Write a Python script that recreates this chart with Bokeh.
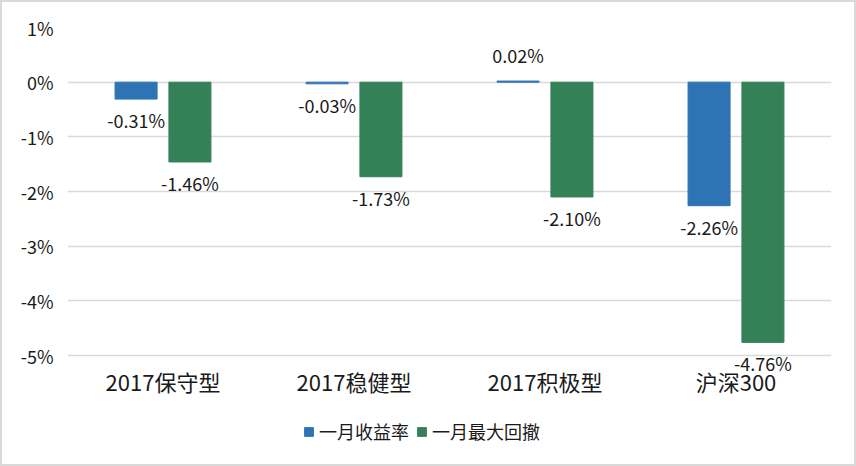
from bokeh.plotting import figure
from bokeh.layouts import column
from bokeh.models import (FactorRange, Range1d, FixedTicker, PrintfTickFormatter,
                          ColumnDataSource, Legend, LegendItem, LabelSet)
from bokeh.transform import dodge
from bokeh.core.properties import value
from bokeh.embed import file_html
from bokeh.resources import INLINE

categories = ["2017保守型", "2017稳健型", "2017积极型", "沪深300"]
monthly_return = [-0.31, -0.03, 0.02, -2.26]
max_drawdown = [-1.46, -1.73, -2.10, -4.76]
series_names = ["一月收益率", "一月最大回撤"]
y_ticks = [-5, -4, -3, -2, -1, 0, 1]

BLUE = "#2E74B5"
GREEN = "#358157"
FONT = "Noto Sans CJK SC"
TXT = "#1a1a1a"

def labels(vals):
    return [f"{v:.2f}%" for v in vals]

def offsets(vals):
    return [26 if v > 0 else -21 for v in vals]

src = ColumnDataSource(dict(
    cat=categories,
    ret=monthly_return,
    dd=max_drawdown,
    ret_lbl=labels(monthly_return),
    dd_lbl=labels(max_drawdown),
    ret_off=offsets(monthly_return),
    dd_off=offsets(max_drawdown),
))

# frame: top at 1%, extended a little below -5% so that the last data label is not clipped
p = figure(width=852, height=412, output_backend="svg", toolbar_location=None,
           x_range=FactorRange(factors=categories, range_padding=0),
           y_range=Range1d(-5.439, 1),
           min_border_left=65, min_border_right=23, min_border_top=25,
           min_border_bottom=35)
p.outline_line_color = None
p.background_fill_color = "white"
p.border_fill_color = "white"

r1 = p.vbar(x=dodge("cat", -0.141, range=p.x_range), top="ret", bottom=0, width=0.22,
            source=src, fill_color=BLUE, line_color=BLUE)
r2 = p.vbar(x=dodge("cat", 0.141, range=p.x_range), top="dd", bottom=0, width=0.22,
            source=src, fill_color=GREEN, line_color=GREEN)

lab1 = LabelSet(x=dodge("cat", -0.141, range=p.x_range), y="ret", text="ret_lbl",
                y_offset="ret_off", source=src, text_align="center", text_baseline="middle",
                text_font=value(FONT), text_font_size=value("18px"), text_color=value(TXT))
lab2 = LabelSet(x=dodge("cat", 0.141, range=p.x_range), y="dd", text="dd_lbl",
                y_offset="dd_off", source=src, text_align="center", text_baseline="middle",
                text_font=value(FONT), text_font_size=value("18px"), text_color=value(TXT))
p.add_layout(lab1)
p.add_layout(lab2)

p.yaxis.ticker = FixedTicker(ticks=y_ticks)
p.yaxis.formatter = PrintfTickFormatter(format="%d%%")
p.yaxis.axis_line_color = None
p.yaxis.major_tick_line_color = None
p.yaxis.minor_tick_line_color = None
p.yaxis.major_label_text_font = FONT
p.yaxis.major_label_text_font_size = "18px"
p.yaxis.major_label_text_color = TXT
p.yaxis.major_label_standoff = 8

p.xaxis.axis_line_color = None
p.xaxis.major_tick_line_color = None
p.xaxis.major_tick_out = 0
p.xaxis.major_tick_in = 0
p.xaxis.major_label_text_font = FONT
p.xaxis.major_label_text_font_size = "22px"
p.xaxis.major_label_text_color = TXT
p.xaxis.major_label_standoff = -15

p.xgrid.grid_line_color = None
p.ygrid.grid_line_color = "#d9d9d9"
p.ygrid.grid_line_width = 1.5

# legend strip below the chart (hidden copies of the bar renderers serve as legend keys)
p2 = figure(width=852, height=50, output_backend="svg", toolbar_location=None,
            x_range=FactorRange(factors=categories, range_padding=0), y_range=Range1d(-5, 1),
            x_axis_type=None, y_axis_type=None,
            min_border_left=0, min_border_right=0, min_border_top=0, min_border_bottom=0)
p2.outline_line_color = None
p2.xgrid.grid_line_color = None
p2.ygrid.grid_line_color = None
p2.border_fill_color = "white"
k1 = p2.vbar(x=dodge("cat", -0.141, range=p2.x_range), top="ret", bottom=0, width=0.22,
             source=src, fill_color=BLUE, line_color=BLUE, visible=False)
k2 = p2.vbar(x=dodge("cat", 0.141, range=p2.x_range), top="dd", bottom=0, width=0.22,
             source=src, fill_color=GREEN, line_color=GREEN, visible=False)
legend = Legend(items=[LegendItem(label=series_names[0], renderers=[k1]),
                       LegendItem(label=series_names[1], renderers=[k2])],
                orientation="horizontal", location=(236, 20),
                label_text_font=FONT, label_text_font_size="18px",
                label_text_color=TXT, glyph_width=11, glyph_height=11,
                label_standoff=5, spacing=7, padding=0, margin=0,
                inactive_fill_alpha=0,
                border_line_color=None, background_fill_alpha=0)
p2.add_layout(legend, "center")

layout = column(p, p2, spacing=0, styles={"border": "2px solid #d9d9d9"})

open("out.html", "w").write(file_html(layout, INLINE))
